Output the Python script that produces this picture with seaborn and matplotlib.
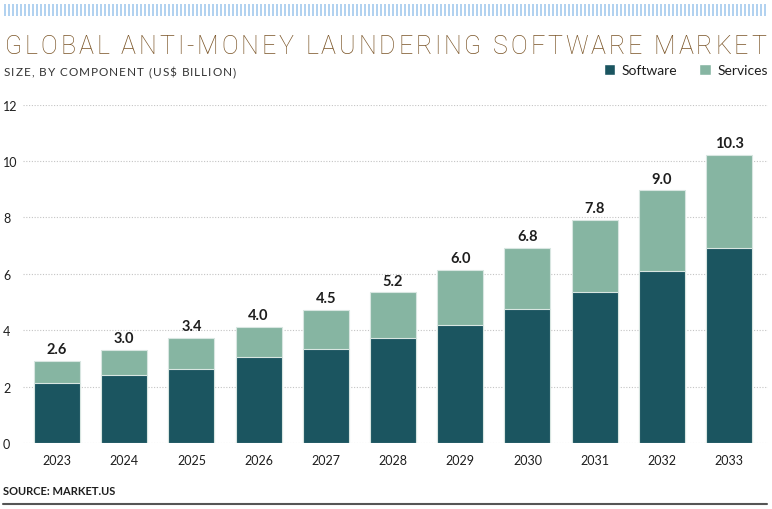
import numpy as np
import pandas as pd
import matplotlib
matplotlib.use("Agg")
import matplotlib.pyplot as plt
import seaborn as sns
from matplotlib.patches import Patch
from matplotlib.lines import Line2D
from matplotlib.collections import LineCollection

# --- Data (US$ billion) ---
years = ["2023", "2024", "2025", "2026", "2027", "2028", "2029", "2030", "2031", "2032", "2033"]
software = [2.12, 2.40, 2.62, 3.04, 3.33, 3.73, 4.18, 4.75, 5.37, 6.11, 6.91]
services = [0.80, 0.90, 1.12, 1.09, 1.38, 1.61, 1.95, 2.18, 2.54, 2.85, 3.31]
total_labels = ["2.6", "3.0", "3.4", "4.0", "4.5", "5.2", "6.0", "6.8", "7.8", "9.0", "10.3"]
y_ticks = [0, 2, 4, 6, 8, 10, 12]

# --- Styling ---
SOFTWARE_COLOR = "#1b5560"
SERVICES_COLOR = "#86b5a2"
TITLE_COLOR = "#7a5426"
TEXT_COLOR = "#1e1e1e"
W, H = 772, 510

sns.set_style("white")
plt.rcParams["font.family"] = ["Lato", "DejaVu Sans"]

df = pd.DataFrame({"year": years, "software": software, "services": services})
df["total"] = df["software"] + df["services"]

fig = plt.figure(figsize=(W / 100, H / 100), dpi=100)
ax = fig.add_axes([23 / W, 1 - 444 / H, (768 - 23) / W, (444 - 105.7) / H])

# stacked bars: total first (services colour), software on top of it
sns.barplot(data=df, x="year", y="total", color=SERVICES_COLOR, saturation=1,
            width=0.685, errorbar=None, edgecolor="#d8e6e1", linewidth=0.8, ax=ax, zorder=3)
sns.barplot(data=df, x="year", y="software", color=SOFTWARE_COLOR, saturation=1,
            width=0.685, errorbar=None, edgecolor="#d8e6e1", linewidth=0.8, ax=ax, zorder=3)

ax.bar_label(ax.containers[0], labels=total_labels, padding=3.5, fontsize=10.5,
             fontweight="bold", color=TEXT_COLOR)

ax.set_ylim(0, 12)
ax.set_xlim(-0.506, 10.58)
ax.set_yticks(y_ticks)
ax.set_xlabel("")
ax.set_ylabel("")
ax.grid(True, axis="y", linestyle=(0, (1, 1.5)), color="#c4c4c4", linewidth=0.8, zorder=0)
sns.despine(ax=ax, left=True, bottom=True)
ax.tick_params(axis="y", length=0, pad=14.4, labelsize=9, labelcolor=TEXT_COLOR)
ax.tick_params(axis="x", length=0, pad=8, labelsize=9, labelcolor=TEXT_COLOR)
for lbl in ax.get_yticklabels():
    lbl.set_horizontalalignment("left")


# --- text with letter spacing, spread between two x pixel positions ---
def tracked_text(s, x0, x1, y, **kw):
    renderer = fig.canvas.get_renderer()

    def width(t):
        if not t:
            return 0.0
        tmp = fig.text(0, 0, t, **kw)
        w = tmp.get_window_extent(renderer).width
        tmp.remove()
        return w

    natural = width(s)
    extra = (x1 - x0 - natural) / (len(s) - 1)
    for i, ch in enumerate(s):
        if ch == " ":
            continue
        xp = x0 + width(s[:i]) + i * extra
        fig.text(xp / W, 1 - y / H, ch, va="baseline", ha="left", **kw)


tracked_text("GLOBAL ANTI-MONEY LAUNDERING SOFTWARE MARKET", 5, 766, 54,
             fontsize=18, fontweight="light", family=["Roboto", "DejaVu Sans"],
             color=TITLE_COLOR)
tracked_text("SIZE, BY COMPONENT (US$ BILLION)", 4, 236, 76.5,
             fontsize=8.5, color="#333333")

# legend
handles = [Patch(facecolor=SOFTWARE_COLOR, label="Software"),
           Patch(facecolor=SERVICES_COLOR, label="Services")]
fig.legend(handles=handles, loc="upper right", bbox_to_anchor=(768 / W, 1 - 65 / H),
           ncol=2, frameon=False, fontsize=10, handlelength=0.85, handleheight=0.85,
           handletextpad=0.45, columnspacing=1.6, borderaxespad=0, borderpad=0,
           labelcolor=TEXT_COLOR)

# source and bottom rule
fig.text(3 / W, 1 - 492 / H, "SOURCE: MARKET.US", fontsize=8, fontweight="bold",
         color=TEXT_COLOR, va="center", ha="left")
fig.add_artist(Line2D([3 / W, 767 / W], [1 - 505 / H] * 2, color="#555555", linewidth=1.5))

# decorative stripes along the top
xs = np.arange(5, 768, 4)
segs = [[(x / W, 1 - 5 / H), (x / W, 1 - 17 / H)] for x in xs]
fig.add_artist(LineCollection(segs, colors="#a3c9ee", linewidths=1.2, transform=fig.transFigure))

fig.savefig("out.png", dpi=100)
